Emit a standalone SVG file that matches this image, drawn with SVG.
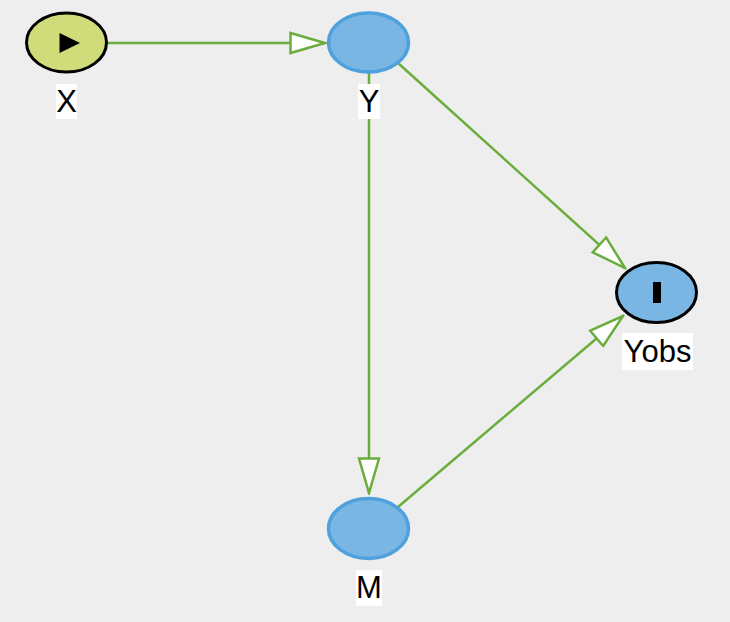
<svg xmlns="http://www.w3.org/2000/svg" width="730" height="622" viewBox="0 0 730 622">
<style>
.edge{fill:none;stroke:#6aad3d;stroke-width:2.5;marker-end:url(#arr)}
.blue{fill:#7ab6e3;stroke:#4ea1dd;stroke-width:3.5}
.obs{fill:#7ab6e3;stroke:#000;stroke-width:3}
.ctrl{fill:#d0dc7a;stroke:#000;stroke-width:3}
.lbg{fill:#fff}
.lbl{font-family:"Liberation Sans",Arial,sans-serif;font-size:31px;fill:#000;text-anchor:middle}
</style>
<defs>
<marker id="arr" markerUnits="userSpaceOnUse" viewBox="0 0 38 24" markerWidth="38" markerHeight="24" refX="36" refY="12" orient="auto">
<path d="M1.5,2 L36,12 L1.5,22 Z" fill="#fff" stroke="#6aad3d" stroke-width="2.5" stroke-linejoin="miter"/>
</marker>
</defs>
<rect x="0" y="0" width="730" height="622" fill="#eeeeee"/>
<g id="edges">
<line class="edge" x1="108" y1="43" x2="325" y2="43"/>
<line class="edge" x1="369" y1="73" x2="369" y2="493"/>
<line class="edge" x1="398" y1="63" x2="625" y2="268"/>
<line class="edge" x1="398" y1="507" x2="623" y2="316"/>
</g>
<g id="node-X">
<ellipse class="ctrl" cx="66.5" cy="42.5" rx="40" ry="29.5"/>
<path d="M59.5,33 L59.5,53 L80,43 Z" fill="#000"/>
<rect class="lbg" x="56" y="84" width="21" height="35"/>
<text class="lbl" x="66.5" y="112">X</text>
</g>
<g id="node-Y">
<ellipse class="blue" cx="368.5" cy="42.5" rx="40" ry="29.5"/>
<rect class="lbg" x="358" y="84" width="22" height="35"/>
<text class="lbl" x="369" y="112">Y</text>
</g>
<g id="node-Yobs">
<ellipse class="obs" cx="656.5" cy="292.5" rx="40" ry="30"/>
<rect x="653" y="282" width="8" height="21" fill="#000"/>
<rect class="lbg" x="622" y="333" width="71" height="37"/>
<text class="lbl" x="657.5" y="362">Yobs</text>
</g>
<g id="node-M">
<ellipse class="blue" cx="368.5" cy="528.5" rx="40" ry="30"/>
<rect class="lbg" x="356" y="570" width="26" height="36"/>
<text class="lbl" x="369" y="598">M</text>
</g>
</svg>
